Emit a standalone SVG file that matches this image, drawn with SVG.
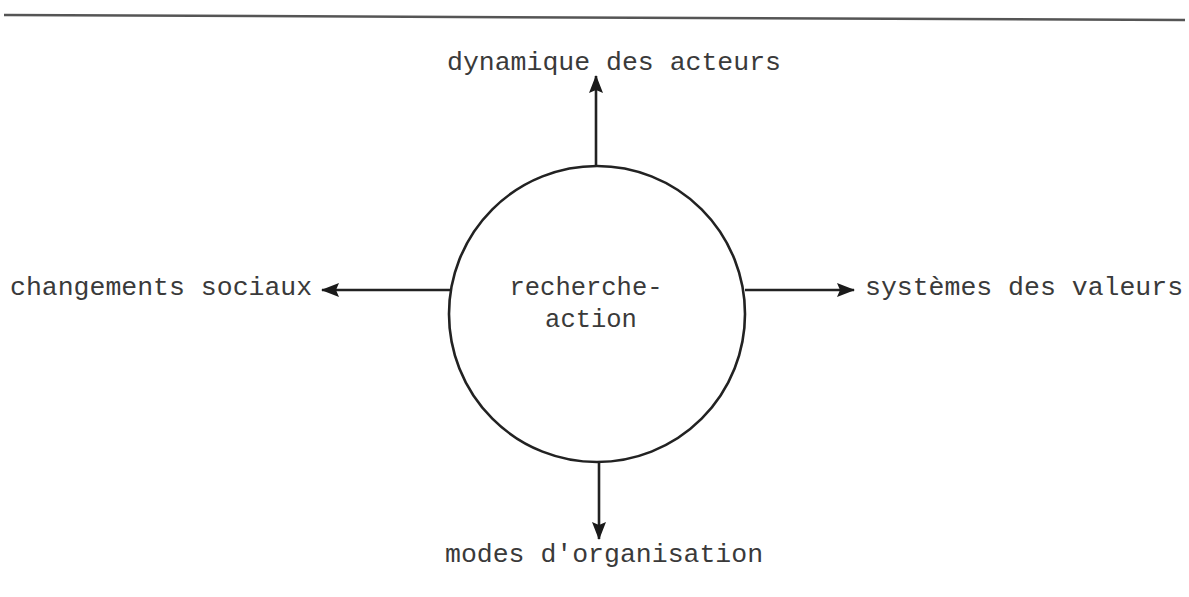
<svg xmlns="http://www.w3.org/2000/svg" width="1189" height="597" viewBox="0 0 1189 597">
<style>
.lbl{font-family:"Liberation Mono","DejaVu Sans Mono",monospace;font-size:26.5px;fill:#3a3a3a}
.ctr{font-family:"Liberation Mono","DejaVu Sans Mono",monospace;font-size:25.5px;fill:#3a3a3a}
.edge{stroke:#222;stroke-width:2.6;fill:none}
</style>
<defs>
<marker id="ah" viewBox="0 0 18 16" refX="17" refY="8" markerWidth="18" markerHeight="16" markerUnits="userSpaceOnUse" orient="auto">
<path d="M0,1 L18,8 L0,15 L3,8 Z" fill="#1a1a1a"/>
</marker>
</defs>
<rect width="1189" height="597" fill="#fff"/>
<line x1="4" y1="15" x2="1185" y2="20" stroke="#555" stroke-width="2.5"/>
<g id="connectors">
<line class="edge" x1="596" y1="166" x2="596" y2="76" marker-end="url(#ah)"/>
<line class="edge" x1="450" y1="290" x2="322" y2="290" marker-end="url(#ah)"/>
<line class="edge" x1="745" y1="290" x2="854" y2="290" marker-end="url(#ah)"/>
<line class="edge" x1="599" y1="462" x2="599" y2="539" marker-end="url(#ah)"/>
</g>
<g id="center">
<circle cx="597" cy="314" r="148" fill="none" stroke="#222" stroke-width="2.6"/>
<text class="ctr" x="586" y="295" text-anchor="middle">recherche-</text>
<text class="ctr" x="591" y="327" text-anchor="middle">action</text>
</g>
<g id="top"><text class="lbl" x="447" y="70">dynamique des acteurs</text></g>
<g id="left"><text class="lbl" x="10" y="295">changements sociaux</text></g>
<g id="right"><text class="lbl" x="865" y="295">systèmes des valeurs</text></g>
<g id="bottom"><text class="lbl" x="445" y="562">modes d'organisation</text></g>
</svg>
